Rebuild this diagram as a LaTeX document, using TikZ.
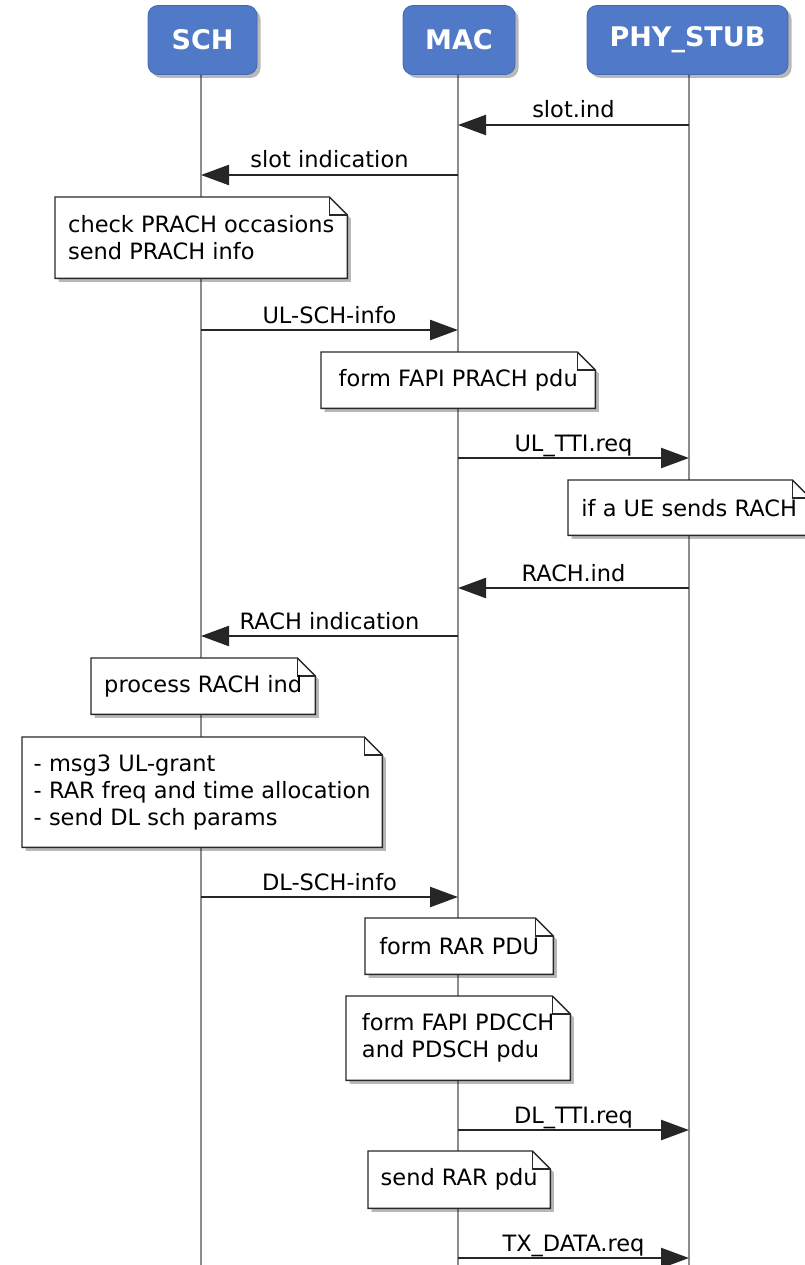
\documentclass[tikz,border=0pt]{standalone}
\usepackage{fontspec}
\setmainfont{DejaVu Sans}
\usetikzlibrary{arrows.meta,shadows,backgrounds}

\newcommand\msgfont{\fontsize{22.5}{27}\selectfont}
\newcommand\hdfont{\fontsize{27}{30}\selectfont\bfseries}
\definecolor{actorblue}{RGB}{80,122,199}
\definecolor{actoredge}{RGB}{66,104,174}
\definecolor{lifegray}{RGB}{140,140,140}
\definecolor{notedge}{RGB}{40,40,40}

\tikzset{
  actor/.style={draw=actoredge, line width=0.8pt, fill=actorblue, rounded corners=10pt,
    text=white, font=\hdfont, minimum height=69pt, inner sep=0pt,
    drop shadow={shadow xshift=3.5pt, shadow yshift=-3.5pt, opacity=0.28, fill=black}},
  lifeline/.style={draw=lifegray, line width=2.5pt},
  msg/.style={draw=black!85, line width=2.4pt, -{Triangle[length=28pt,width=20pt]}},
  msglabel/.style={font=\msgfont, anchor=base, yshift=7pt, inner sep=0pt},
  notetext/.style={font=\msgfont, align=left, anchor=north west, inner sep=0pt},
  noteshape/.style={fill=white, draw=notedge, line width=1.4pt, line join=miter,
    drop shadow={shadow xshift=3.5pt, shadow yshift=-3.5pt, opacity=0.28, fill=black}},
}

% note outline with a folded top-right corner
\newcommand\drawnote[1]{%
  \path[noteshape] (#1.south west) -- (#1.north west) -- ([xshift=-18pt]#1.north east)
     -- ([yshift=-18pt]#1.north east) -- (#1.south east) -- cycle;
  \draw[draw=notedge, line width=1.2pt] ([xshift=-18pt]#1.north east) |- ([yshift=-18pt]#1.north east);}

\begin{document}
\begin{tikzpicture}[x=1pt,y=-1pt]
\useasboundingbox (0,0) rectangle (804,1265);

% participants
\node[actor, minimum width=109pt] (sch) at (202.5,40) {SCH};
\node[actor, minimum width=112pt] (mac) at (459,40) {MAC};
\node[actor, minimum width=201pt] (phy) at (687.5,40) {PHY\_STUB};

\coordinate (schEnd) at (201,1270);
\coordinate (macEnd) at (458,1270);
\coordinate (phyEnd) at (689,1270);

% notes (text only; outlines go on the background layer)
\node[notetext, minimum width=292pt, minimum height=81pt] (n1) at (55,197)
  {check PRACH occasions\\send PRACH info};
\node[notetext, minimum width=274pt, minimum height=56pt, align=center] (n2) at (321,352)
  {form FAPI PRACH pdu};
\node[notetext, minimum width=242pt, minimum height=55pt, align=center] (n3) at (568,480)
  {if a UE sends RACH};
\node[notetext, minimum width=224pt, minimum height=56pt, align=center] (n4) at (91,658)
  {process RACH ind};
\node[notetext, minimum width=360pt, minimum height=110pt] (n5) at (22,737)
  {- msg3 UL-grant\\- RAR freq and time allocation\\- send DL sch params};
\node[notetext, minimum width=188pt, minimum height=56pt, align=center] (n6) at (365,918)
  {form RAR PDU};
\node[notetext, minimum width=224pt, minimum height=84pt] (n7) at (346,996)
  {form FAPI PDCCH\\and PDSCH pdu};
\node[notetext, minimum width=182pt, minimum height=57pt, align=center] (n8) at (368,1151)
  {send RAR pdu};

% messages
\draw[msg] (phyEnd |- 0,125) -- (macEnd |- 0,125) node[msglabel, midway] {slot.ind};
\draw[msg] (macEnd |- 0,175) -- (schEnd |- 0,175) node[msglabel, midway] {slot indication};
\draw[msg] (schEnd |- 0,330) -- (macEnd |- 0,330) node[msglabel, midway] {UL-SCH-info};
\draw[msg] (macEnd |- 0,458) -- (phyEnd |- 0,458) node[msglabel, midway] {UL\_TTI.req};
\draw[msg] (phyEnd |- 0,588) -- (macEnd |- 0,588) node[msglabel, midway] {RACH.ind};
\draw[msg] (macEnd |- 0,636) -- (schEnd |- 0,636) node[msglabel, midway] {RACH indication};
\draw[msg] (schEnd |- 0,897) -- (macEnd |- 0,897) node[msglabel, midway] {DL-SCH-info};
\draw[msg] (macEnd |- 0,1130) -- (phyEnd |- 0,1130) node[msglabel, midway] {DL\_TTI.req};
\draw[msg] (macEnd |- 0,1258) -- (phyEnd |- 0,1258) node[msglabel, midway] {TX\_DATA.req};

\begin{pgfonlayer}{background}
  \fill[white] (0,0) rectangle (804,1265);
  \draw[lifeline] (schEnd |- sch.south) -- (schEnd);
  \draw[lifeline] (macEnd |- mac.south) -- (macEnd);
  \draw[lifeline] (phyEnd |- phy.south) -- (phyEnd);
  \drawnote{n1}\drawnote{n2}\drawnote{n3}\drawnote{n4}
  \drawnote{n5}\drawnote{n6}\drawnote{n7}\drawnote{n8}
\end{pgfonlayer}
\end{tikzpicture}
\end{document}
